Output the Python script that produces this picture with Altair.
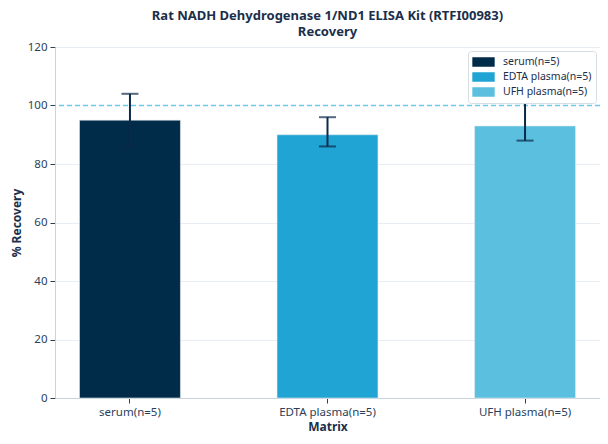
import altair as alt
import pandas as pd

matrix = ["serum(n=5)", "EDTA plasma(n=5)", "UFH plasma(n=5)"]
recovery = [95, 90, 93]
lower = [86, 86, 88]
upper = [104, 96, 103]
colors = ["#002b49", "#1fa4d4", "#5bbfe0"]
reference_line = [100]

df = pd.DataFrame({"Matrix": matrix, "Recovery": recovery, "lower": lower, "upper": upper})
ref = pd.DataFrame({"y": reference_line})

FONT = "Noto Sans"
TXT = "#2a3f5a"

x_enc = alt.X("Matrix:N", sort=matrix, title="Matrix",
              scale=alt.Scale(paddingInner=0.489, paddingOuter=0.124),
              axis=alt.Axis(labelAngle=0, labelFontSize=11.5, labelColor=TXT, titleFontSize=12,
                            titleFontWeight="bold", titleColor="#1b2f4b", domainColor="#c8d3dc",
                            tickColor=TXT, tickSize=5, labelPadding=3, titlePadding=4,
                            grid=False))
y_scale = alt.Scale(domain=[0, 120], nice=False)

bars = alt.Chart(df).mark_bar(stroke="#e3eaf0", strokeWidth=0.6).encode(
    x=x_enc,
    y=alt.Y("Recovery:Q", scale=y_scale, title="% Recovery",
            axis=alt.Axis(values=[0, 20, 40, 60, 80, 100, 120], labelFontSize=11.5, labelColor=TXT,
                          titleFontSize=12, titleFontWeight="bold", titleColor="#1b2f4b",
                          domainColor="#c8d3dc", tickColor=TXT, tickSize=5, labelPadding=3,
                          gridColor="#e8eef3", titlePadding=4,
                          gridOpacity=alt.ExprRef("datum.value === 100 ? 0 : 1"))),
    color=alt.Color("Matrix:N", sort=matrix,
                    scale=alt.Scale(domain=matrix, range=colors),
                    legend=alt.Legend(title=None, orient="top-right", offset=4,
                                      labelFontSize=10.5, labelColor="#1b2f4b", labelFont=FONT,
                                      symbolType="M-1,-0.42H1V0.42H-1Z", symbolSize=500,
                                      symbolStrokeWidth=0, symbolOpacity=1,
                                      fillColor="white", strokeColor="#d5dde5",
                                      cornerRadius=3, padding=4, rowPadding=1, clipHeight=14,
                                      labelOffset=8)),
)

rule100 = alt.Chart(ref).mark_rule(stroke="#6cc8ee", strokeDash=[5, 3], strokeWidth=1.5,
                                   opacity=1).encode(
    y=alt.Y("y:Q", scale=y_scale)
)

err = alt.Chart(df).mark_rule(color="#0b2a48", strokeWidth=2).encode(
    x=alt.X("Matrix:N", sort=matrix),
    y=alt.Y("lower:Q", scale=y_scale),
    y2="upper:Q",
)
cap_lo = alt.Chart(df).mark_tick(color="#0b2a48", size=17, thickness=2).encode(
    x=alt.X("Matrix:N", sort=matrix),
    y=alt.Y("lower:Q", scale=y_scale),
)
cap_hi = alt.Chart(df).mark_tick(color="#0b2a48", size=17, thickness=2).encode(
    x=alt.X("Matrix:N", sort=matrix),
    y=alt.Y("upper:Q", scale=y_scale),
)

chart = alt.layer(bars, rule100, err, cap_lo, cap_hi).properties(
    width=545, height=351,
    title=alt.Title("Rat NADH Dehydrogenase 1/ND1 ELISA Kit (RTFI00983)",
                    subtitle="Recovery",
                    fontSize=13, fontWeight="bold", color="#1b2f4b", font=FONT,
                    subtitleFontSize=13, subtitleFontWeight="bold", subtitleColor="#1b2f4b",
                    subtitleFont=FONT, subtitlePadding=3,
                    anchor="middle", offset=2),
    autosize=alt.AutoSizeParams(type="none"),
    padding={"left": 47, "top": 39, "right": 0, "bottom": 37},
).configure(font=FONT).configure_view(stroke="#e8eef3")

chart.save("out.html", embed_options={"renderer": "svg", "actions": False})
